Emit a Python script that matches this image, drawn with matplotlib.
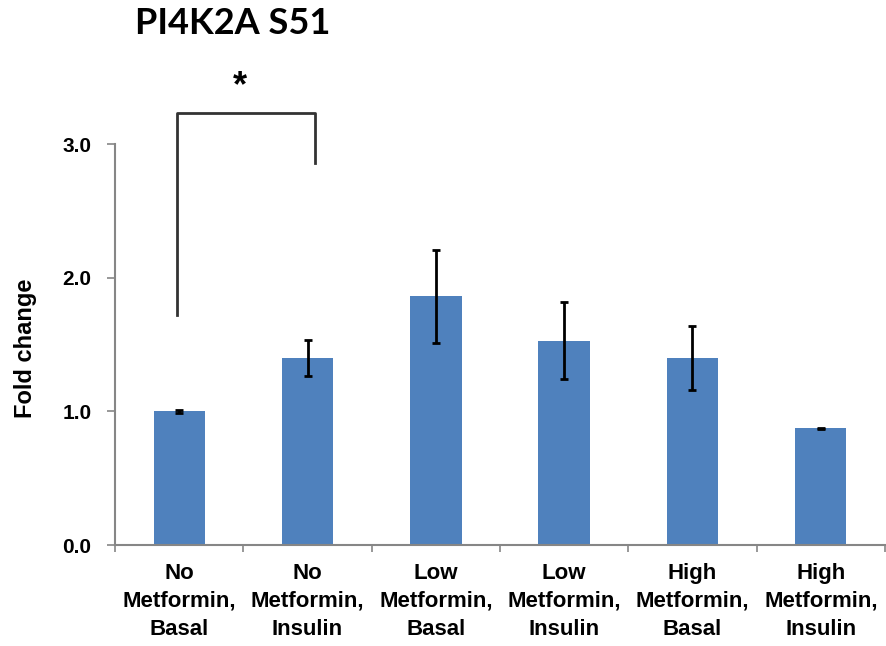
import numpy as np
import matplotlib.pyplot as plt

plt.rcParams["font.family"] = ["Liberation Sans", "DejaVu Sans"]

categories = ["No\nMetformin,\nBasal", "No\nMetformin,\nInsulin",
              "Low\nMetformin,\nBasal", "Low\nMetformin,\nInsulin",
              "High\nMetformin,\nBasal", "High\nMetformin,\nInsulin"]
fold_change = [1.00, 1.40, 1.86, 1.53, 1.40, 0.875]
sem = [0.01, 0.135, 0.345, 0.285, 0.24, 0.004]
yticks = [0.0, 1.0, 2.0, 3.0]

fig = plt.figure(figsize=(8.87, 6.46), dpi=100)
ax = fig.add_axes([0.1297, 0.1563, 0.868, 0.6207])

x = np.arange(len(categories))
ax.bar(x, fold_change, width=0.4, color="#4F81BD", zorder=2)
ax.errorbar(x, fold_change, yerr=sem, fmt="none", ecolor="black",
            elinewidth=2, capsize=3, capthick=2, zorder=3)

ax.set_xlim(-0.5, len(categories) - 0.5)
ax.set_ylim(0, 3.0)
ax.set_yticks(yticks)
ax.set_yticklabels([f"{v:.1f}" for v in yticks], fontsize=15, fontweight="bold")
ax.set_ylabel("Fold change", fontsize=17, fontweight="bold")
ax.yaxis.set_label_coords(-0.102, 0.49)

# category labels sit between the boundary ticks
ax.set_xticks(x)
ax.set_xticklabels(categories, fontsize=16, fontweight="bold",
                   linespacing=1.42)
ax.tick_params(axis="x", length=0, pad=13)
ax.set_xticks(np.arange(-0.5, len(categories)), minor=True)
ax.tick_params(axis="x", which="minor", length=5, color="#868686", width=1.2)
ax.tick_params(axis="y", length=6, color="#868686", width=1.2, pad=11)

for side in ["top", "right"]:
    ax.spines[side].set_visible(False)
for side in ["left", "bottom"]:
    ax.spines[side].set_color("#868686")
    ax.spines[side].set_linewidth(1.5)

# significance bracket between the two untreated groups
ax.plot([-0.02, -0.02, 1.06, 1.06], [1.72, 3.23, 3.23, 2.86],
        color="#333333", lw=2, clip_on=False, zorder=4)
ax.text(0.47, 3.43, "*", ha="center", va="center", fontsize=26,
        fontweight="bold", clip_on=False)

fig.text(0.152, 0.963, "PI4K2A S51", fontsize=26, fontweight="bold",
         family=["Lato", "DejaVu Sans"], va="center", ha="left")

fig.savefig("out.png", dpi=100)
